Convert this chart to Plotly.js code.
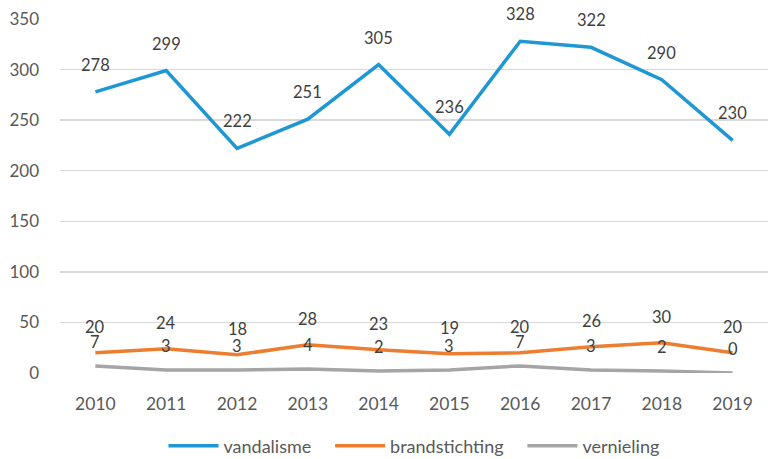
<!DOCTYPE html>
<html>
<head>
<meta charset="utf-8">
<script src="https://cdn.plot.ly/plotly-3.0.1.min.js"></script>
<style>html,body{margin:0;padding:0;background:#fff}#chart{width:768px;height:459px}</style>
</head>
<body>
<div id="chart"></div>
<script>
const years = ["2010","2011","2012","2013","2014","2015","2016","2017","2018","2019"];
const vandalisme = [278,299,222,251,305,236,328,322,290,230];
const brandstichting = [20,24,18,28,23,19,20,26,30,20];
const vernieling = [7,3,3,4,2,3,7,3,2,0];

const fam = "Lato, 'Open Sans', sans-serif";
const series = [
  {name: "vandalisme", y: vandalisme, color: "#1f97d4", shift: 27},
  {name: "brandstichting", y: brandstichting, color: "#ed7d31", shift: 26},
  {name: "vernieling", y: vernieling, color: "#a5a5a5", shift: 24}
];
const pad = "\u00a0\u00a0\u00a0";
const data = series.map((s, k) => ({
  x: years, y: s.y, name: s.name + (k < 2 ? pad : ""), type: "scatter", mode: "lines",
  line: {color: s.color, width: 3.5}, cliponaxis: false
}));
const annotations = [];
series.forEach(s => {
  s.y.forEach((v, i) => {
    annotations.push({x: i, y: v, xref: "x", yref: "y", text: String(v),
      showarrow: false, yshift: s.shift, yanchor: "middle",
      font: {family: fam, size: 16.5, color: "#404040"}});
  });
});
const layout = {
  width: 768, height: 459,
  margin: {l: 60, r: 0, t: 19, b: 86},
  paper_bgcolor: "#fff", plot_bgcolor: "#fff",
  font: {family: fam, size: 16, color: "#595959"},
  showlegend: true,
  legend: {orientation: "h", x: 0.5, xanchor: "center", yref: "container", y: 0.028, yanchor: "middle",
           font: {size: 18, color: "#595959"}, itemwidth: 50, traceorder: "normal"},
  annotations: annotations,
  xaxis: {type: "category", range: [-0.5, 9.5], showgrid: false, zeroline: false, automargin: false,
          showline: false, ticks: "", ticklabelstandoff: 18, tickfont: {size: 17.5, color: "#595959"}},
  yaxis: {range: [0, 350], dtick: 50, showgrid: true, gridcolor: "#d9d9d9", gridwidth: 1.5, automargin: false,
          zeroline: false, showline: false, ticks: "", ticklabelstandoff: 20,
          tickfont: {size: 17, color: "#595959"}}
};
Plotly.newPlot("chart", data, layout, {displayModeBar: false, staticPlot: true});
</script>
</body>
</html>
